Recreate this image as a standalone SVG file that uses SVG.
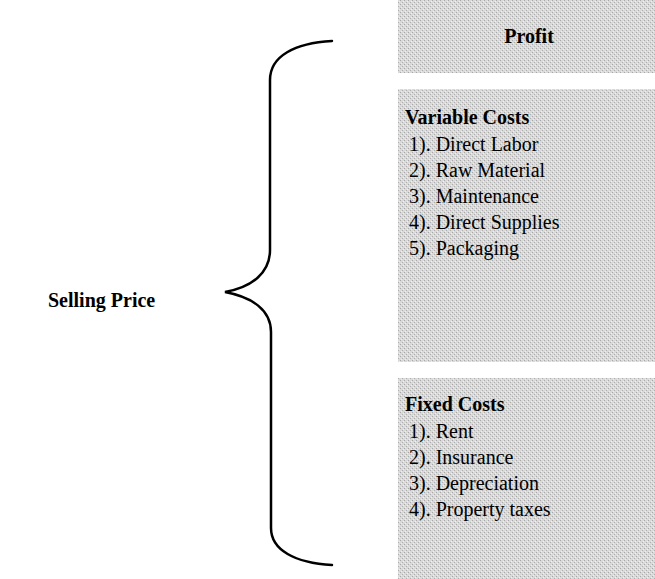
<svg xmlns="http://www.w3.org/2000/svg" width="655" height="579" viewBox="0 0 655 579">
<style>
.box{fill:url(#stipple);}
.t{font-family:"Liberation Serif","Times New Roman",serif;font-size:20px;fill:#000;}
.b{font-weight:bold;}
.brace{fill:none;stroke:#000;stroke-width:2.5;stroke-linecap:round;}
</style>
<defs>
<pattern id="stipple" width="4" height="4" patternUnits="userSpaceOnUse">
<rect width="4" height="4" fill="#d9d9d9"/>
<rect x="0" y="0" width="1" height="1" fill="#a8a8a8"/>
<rect x="2" y="2" width="1" height="1" fill="#b0b0b0"/>
<rect x="3" y="1" width="1" height="1" fill="#f0f0f0"/>
<rect x="1" y="3" width="1" height="1" fill="#eeeeee"/>
</pattern>
</defs>
<rect width="655" height="579" fill="#fff"/>
<g id="selling-price">
<text class="t b" x="48" y="307">Selling Price</text>
</g>
<g id="connectors">
<path class="brace" d="M332,41 C295,43 270,56 270,80 L270,250 C270,273 252,287 225,292 C252,297 271,310 271,332 L271,528 C271,550 295,563 332,565"/>
</g>
<g id="profit">
<rect class="box" x="398" y="0" width="257" height="73"/>
<text class="t b" x="529" y="43" text-anchor="middle">Profit</text>
</g>
<g id="variable-costs">
<rect class="box" x="398" y="89" width="257" height="273"/>
<text class="t b" x="405" y="124">Variable Costs</text>
<text class="t" x="409" y="151">1). Direct Labor</text>
<text class="t" x="409" y="177">2). Raw Material</text>
<text class="t" x="409" y="203">3). Maintenance</text>
<text class="t" x="409" y="229">4). Direct Supplies</text>
<text class="t" x="409" y="255">5). Packaging</text>
</g>
<g id="fixed-costs">
<rect class="box" x="398" y="378" width="257" height="201"/>
<text class="t b" x="405" y="411">Fixed Costs</text>
<text class="t" x="409" y="438">1). Rent</text>
<text class="t" x="409" y="464">2). Insurance</text>
<text class="t" x="409" y="490">3). Depreciation</text>
<text class="t" x="409" y="516">4). Property taxes</text>
</g>
</svg>
